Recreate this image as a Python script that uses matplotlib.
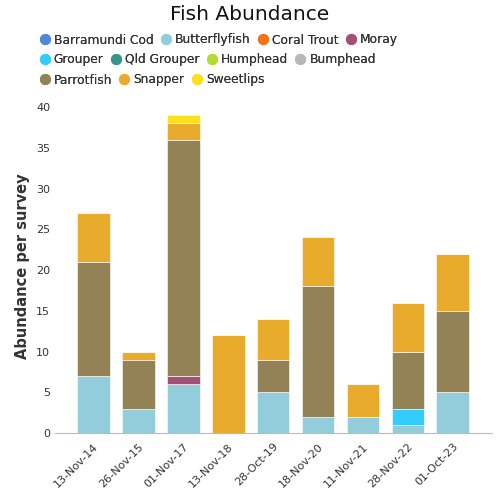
import matplotlib
matplotlib.use("Agg")
import matplotlib.pyplot as plt
from matplotlib.lines import Line2D
import numpy as np

dates = ["13-Nov-14", "26-Nov-15", "01-Nov-17", "13-Nov-18", "28-Oct-19",
         "18-Nov-20", "11-Nov-21", "28-Nov-22", "01-Oct-23"]
species = ["Barramundi Cod", "Butterflyfish", "Coral Trout", "Moray", "Grouper",
           "Qld Grouper", "Humphead", "Bumphead", "Parrotfish", "Snapper", "Sweetlips"]
colors = ["#4f88d8", "#93cddc", "#f57215", "#a4507a", "#33ccff",
          "#36968c", "#b2dc2e", "#b8b8b8", "#948257", "#e8ab2c", "#fbe01b"]

barramundi_cod = [0, 0, 0, 0, 0, 0, 0, 0, 0]
butterflyfish  = [7, 3, 6, 0, 5, 2, 2, 1, 5]
coral_trout    = [0, 0, 0, 0, 0, 0, 0, 0, 0]
moray          = [0, 0, 1, 0, 0, 0, 0, 0, 0]
grouper        = [0, 0, 0, 0, 0, 0, 0, 2, 0]
qld_grouper    = [0, 0, 0, 0, 0, 0, 0, 0, 0]
humphead       = [0, 0, 0, 0, 0, 0, 0, 0, 0]
bumphead       = [0, 0, 0, 0, 0, 0, 0, 0, 0]
parrotfish     = [14, 6, 29, 0, 4, 16, 0, 7, 10]
snapper        = [6, 1, 2, 12, 5, 6, 4, 6, 7]
sweetlips      = [0, 0, 1, 0, 0, 0, 0, 0, 0]

series = [barramundi_cod, butterflyfish, coral_trout, moray, grouper,
          qld_grouper, humphead, bumphead, parrotfish, snapper, sweetlips]
yticks = [0, 5, 10, 15, 20, 25, 30, 35, 40]

fig = plt.figure(figsize=(5, 5), dpi=100)
ax = fig.add_axes([0.11, 0.134, 0.874, 0.666])

x = np.arange(len(dates))
bottom = np.zeros(len(dates))
for vals, col in zip(series, colors):
    v = np.array(vals, dtype=float)
    ax.bar(x, v, bottom=bottom, width=0.73, color=col, edgecolor="white", linewidth=0.4)
    bottom += v

ax.set_xlim(-0.85, 8.87)
ax.set_ylim(0, 40.86)
ax.set_yticks(yticks)
ax.set_xticks(x)
ax.set_xticklabels(dates, rotation=45, ha="right", rotation_mode="anchor")
ax.tick_params(axis="both", length=0, labelsize=8, labelcolor="#333333")
ax.tick_params(axis="x", pad=6)
for s in ["top", "right", "left"]:
    ax.spines[s].set_visible(False)
ax.spines["bottom"].set_color("#bbbbbb")
ax.set_ylabel("Abundance per survey", fontsize=10.5, fontweight="bold", color="#333333")

fig.text(0.5, 0.972, "Fish Abundance", ha="center", va="center", fontsize=14.5, color="#111111")

rows = [range(0, 4), range(4, 8), range(8, 11)]
ys = [0.920, 0.880, 0.840]
for r, yy in zip(rows, ys):
    handles = [Line2D([], [], marker="o", linestyle="", markersize=7,
                      markerfacecolor=colors[i], markeredgecolor=colors[i]) for i in r]
    labels = [species[i] for i in r]
    leg = fig.legend(handles, labels, loc="center left", bbox_to_anchor=(0.083, yy),
                     ncol=len(labels), frameon=False, fontsize=8.8,
                     handlelength=0.5, handletextpad=0.5, columnspacing=0.75,
                     borderaxespad=0, borderpad=0)
    for t in leg.get_texts():
        t.set_color("#333333")
    fig.add_artist(leg)

fig.savefig("out.png", dpi=100)
